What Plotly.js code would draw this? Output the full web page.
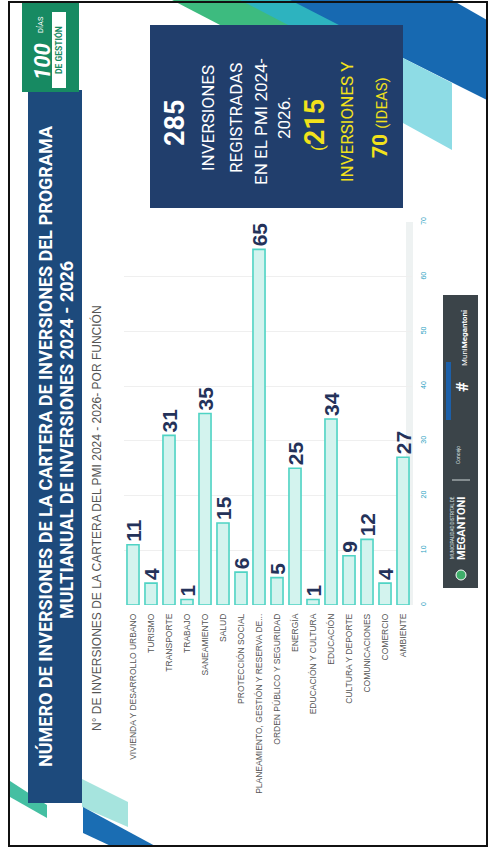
<!DOCTYPE html>
<html>
<head>
<meta charset="utf-8">
<script src="https://cdn.plot.ly/plotly-3.0.1.min.js"></script>
<style>
  html, body { margin: 0; padding: 0; background: #ffffff; }
  #chart { width: 490px; height: 853px; }
</style>
</head>
<body>
<div id="chart"></div>
<script>
// ---- DATA ----
const categories = [
  "VIVIENDA Y DESARROLLO URBANO",
  "TURISMO",
  "TRANSPORTE",
  "TRABAJO",
  "SANEAMIENTO",
  "SALUD",
  "PROTECCIÓN SOCIAL",
  "PLANEAMIENTO, GESTIÓN Y RESERVA DE...",
  "ORDEN PÚBLICO Y SEGURIDAD",
  "ENERGÍA",
  "EDUCACIÓN Y CULTURA",
  "EDUCACIÓN",
  "CULTURA Y DEPORTE",
  "COMUNICACIONES",
  "COMERCIO",
  "AMBIENTE"
];
const investments = [11, 4, 31, 1, 35, 15, 6, 65, 5, 25, 1, 34, 9, 12, 4, 27];
const valueTicks = [0, 10, 20, 30, 40, 50, 60, 70];
const valueTickLabels = ["0", "10", "20", "30", "40", "50", "60", "70"];

const titleLine1 = "NÚMERO DE INVERSIONES DE LA CARTERA DE INVERSIONES DEL PROGRAMA";
const titleLine2 = "MULTIANUAL DE INVERSIONES 2024 - 2026";
const subtitle = "N° DE INVERSIONES DE LA CARTERA DEL PMI 2024 - 2026- POR FUNCIÓN";
const totalRegistered = "285";
const totalInvest = "215";
const totalIdeas = "70";

// ---- page geometry helpers (layout only) ----
const W = 490, H = 853;
const fx = px => px / W;
const fy = py => 1 - py / H;
function poly(pts, fill) {
  let d = pts.map((p, i) => (i ? "L" : "M") + fx(p[0]) + "," + fy(p[1])).join(" ") + " Z";
  return { type: "path", xref: "paper", yref: "paper", path: d, fillcolor: fill, line: { width: 0 }, layer: "below" };
}
function rect(x0, y0, x1, y1, fill, extra) {
  return Object.assign({ type: "rect", xref: "paper", yref: "paper", x0: fx(x0), x1: fx(x1), y0: fy(y1), y1: fy(y0),
    fillcolor: fill, line: { width: 0 }, layer: "below" }, extra || {});
}
function note(x, y, text, size, color, extra) {
  return Object.assign({ xref: "paper", yref: "paper", x: fx(x), y: fy(y), text: text, showarrow: false,
    textangle: -90, xanchor: "center", yanchor: "middle",
    font: { family: "Roboto, 'Liberation Sans', sans-serif", size: size, color: color } }, extra || {});
}

const shapes = [
  // decorative stripes top-right
  poly([[172,0],[245,0],[295,26],[222,26]], "#3dbb7f"),
  poly([[240,0],[300,0],[350,26],[290,26]], "#2db3bf"),
  poly([[290,0],[452,0],[487,20],[487,100],[403,58],[300,5]], "#1769b1"),
  poly([[403,58],[452,83],[452,150],[403,123]], "#8edce5"),
  // decorative stripes bottom-left
  poly([[10,781],[47,805],[47,818],[10,797]], "#44bfa2"),
  poly([[82,779],[128,802],[128,827],[82,807]], "#a6e4de"),
  poly([[83,807],[157,847],[113,847],[83,833]], "#1a6db3"),
  // title band
  rect(28, 90, 82, 803, "#1d4a7c"),
  // badge "100 días de gestión"
  rect(22, 3, 79, 92, "#178a62"),
  rect(52, 12, 66, 88, "#ffffff"),
  // summary box
  rect(150, 25, 403, 208, "#213e6c", { layer: "above" }),
  // light track next to value axis
  rect(406, 222, 413, 605, "#eef2f2"),
  // footer band
  rect(443, 295, 478, 588, "#3b4449"),
  rect(446, 362, 451, 420, "#1c5fa8"),
  { type: "line", xref: "paper", yref: "paper", x0: fx(452), x1: fx(470), y0: fy(480), y1: fy(480),
    line: { color: "#cfd6d8", width: 1 } },
  { type: "circle", xref: "paper", yref: "paper", x0: fx(456), x1: fx(466), y0: fy(580), y1: fy(570),
    fillcolor: "#3fae6a", line: { width: 1, color: "#ffffff" } },
  // outer frame
  { type: "rect", xref: "paper", yref: "paper", x0: fx(9), x1: fx(487), y0: fy(846), y1: fy(2),
    fillcolor: "rgba(0,0,0,0)", line: { color: "#111111", width: 2 } }
];

const annotations = [
  note(45, 446, titleLine1, 18, "#ffffff", { font: { family: "Roboto, sans-serif", size: 18, color: "#ffffff", weight: 700 } }),
  note(67, 440, titleLine2, 18, "#ffffff", { font: { family: "Roboto, sans-serif", size: 18, color: "#ffffff", weight: 700 } }),
  note(96, 518, subtitle, 12, "#555555", { font: { family: "'Liberation Sans', Arial, sans-serif", size: 12, color: "#555555" } }),
  // badge
  note(42, 62, "<b><i>100</i></b>", 22, "#ffffff"),
  note(41, 25, "DÍAS", 7.5, "#ffffff"),
  note(59, 50, "<b>DE GESTIÓN</b>", 8.5, "#178a62"),
  // summary box
  note(175, 123, "<b>" + totalRegistered + "</b>", 27, "#ffffff"),
  note(208, 118, "INVERSIONES", 17, "#ffffff"),
  note(236, 118, "REGISTRADAS", 17, "#ffffff"),
  note(261, 122, "EN EL PMI 2024-", 17, "#ffffff"),
  note(284, 118, "2026.", 17, "#ffffff"),
  note(315, 125, "<span style='font-size:17px'>(</span><b>" + totalInvest + "</b>", 27, "#f2e21b"),
  note(347, 122, "INVERSIONES Y", 17, "#f2e21b"),
  note(380, 118, "<b>" + totalIdeas + "</b> <span style='font-size:15px'>(IDEAS)</span>", 21, "#f2e21b"),
  // footer
  note(461, 528, "<b>MEGANTONI</b>", 11, "#ffffff"),
  note(452, 528, "MUNICIPALIDAD DISTRITAL DE", 4.5, "#dfe4e6"),
  note(462, 387, "<b>#</b>", 17, "#ffffff"),
  note(464, 338, "Muni<b>Megantoni</b>", 8, "#ffffff"),
  note(458, 455, "Concejo", 5, "#dfe4e6")
];

const trace = {
  type: "bar",
  x: categories,
  y: investments,
  text: investments.map(String),
  textposition: "outside",
  textangle: -90,
  constraintext: "none",
  cliponaxis: false,
  textfont: { family: "'Liberation Sans', Arial, sans-serif", size: 21, color: "#24325a", weight: 700 },
  marker: { color: "#d3f3ee", line: { color: "#4fd3c4", width: 1.6 } },
  hoverinfo: "x+y"
};

const layout = {
  width: W, height: H,
  margin: { l: 0, r: 0, t: 0, b: 0 },
  paper_bgcolor: "#ffffff",
  plot_bgcolor: "rgba(0,0,0,0)",
  showlegend: false,
  bargap: 0.33,
  xaxis: {
    domain: [fx(124), fx(412)],
    type: "category",
    tickangle: -90,
    tickfont: { family: "'Liberation Sans', Arial, sans-serif", size: 8.5, color: "#555555" },
    showgrid: false, zeroline: false, showline: false, ticks: "",
    ticklabelstandoff: 6,
    anchor: "y"
  },
  yaxis: {
    domain: [fy(605), fy(222)],
    range: [0, 70],
    tickvals: valueTicks,
    ticktext: valueTickLabels,
    side: "right",
    tickangle: -90,
    tickfont: { family: "'Liberation Sans', Arial, sans-serif", size: 7, color: "#2a9fc2" },
    showgrid: true, gridcolor: "#efefef", gridwidth: 1,
    zeroline: false, showline: false, ticks: "",
    ticklabelstandoff: 6,
    anchor: "x"
  },
  shapes: shapes,
  annotations: annotations
};

Plotly.newPlot("chart", [trace], layout, { displayModeBar: false, staticPlot: true });
</script>
</body>
</html>
